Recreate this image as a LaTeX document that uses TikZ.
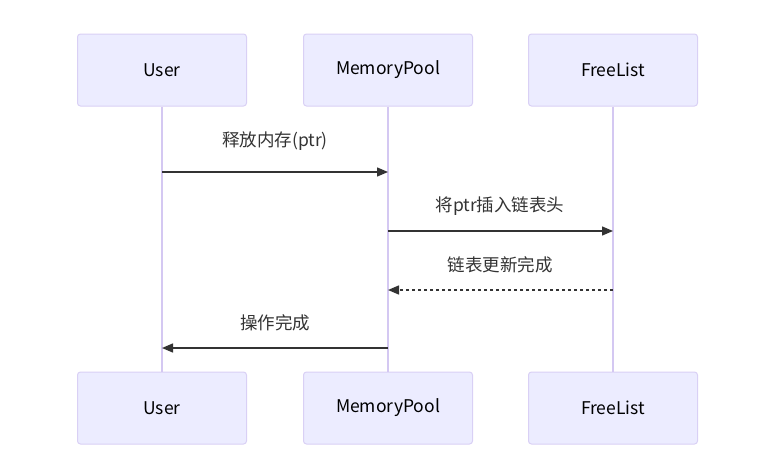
\documentclass[tikz,border=0pt]{standalone}
\usepackage{fontspec}
\setmainfont{Noto Sans CJK SC}
\usetikzlibrary{arrows.meta}

\definecolor{actorfill}{HTML}{ECECFF}
\definecolor{actorline}{HTML}{D9D0F5}
\definecolor{lifeline}{HTML}{D4C8F2}
\definecolor{msgline}{HTML}{333333}

\tikzset{
  actor/.style={draw=actorline, fill=actorfill, line width=1pt, rounded corners=3pt,
    minimum width=169pt, minimum height=72pt, inner sep=0pt,
    font=\fontsize{17.5}{20}\selectfont, text=black},
  life/.style={draw=lifeline, line width=1.5pt},
  msg/.style={draw=msgline, line width=1.4pt, -{Triangle[length=11pt,width=9pt]}},
  reply/.style={msg, dash pattern=on 3pt off 3pt},
  msglabel/.style={font=\fontsize{17.5}{20}\selectfont, text=msgline, inner sep=0pt}
}

\begin{document}
\begin{tikzpicture}[x=1pt, y=-1pt]
\useasboundingbox (0,0) rectangle (772,469);

%% actors, top and bottom
\node[actor] (usertop) at (162,70) {User};
\node[actor] (pooltop) at (388,70) {MemoryPool};
\node[actor] (listtop) at (613,70) {FreeList};
\node[actor] (userbot) at (162,408) {User};
\node[actor] (poolbot) at (388,408) {MemoryPool};
\node[actor] (listbot) at (613,408) {FreeList};

%% lifelines
\draw[life] (usertop.south) -- (userbot.north);
\draw[life] (pooltop.south) -- (poolbot.north);
\draw[life] (listtop.south) -- (listbot.north);

%% message ends on the lifelines
\coordinate (u1) at (162,172); \coordinate (p1) at (388,172);
\coordinate (p2) at (388,231); \coordinate (l2) at (613,231);
\coordinate (l3) at (613,290); \coordinate (p3) at (388,290);
\coordinate (p4) at (388,348); \coordinate (u4) at (162,348);

%% messages
\draw[msg] (u1) -- (p1);
\node[msglabel] (m1) at (275,141) {释放内存(ptr)};
\draw[msg] (p2) -- (l2);
\node[msglabel] (m2) at (500,206) {将ptr插入链表头};
\draw[reply] (l3) -- (p3);
\node[msglabel] (m3) at (500,265) {链表更新完成};
\draw[msg] (p4) -- (u4);
\node[msglabel] (m4) at (275,323) {操作完成};
\end{tikzpicture}
\end{document}
